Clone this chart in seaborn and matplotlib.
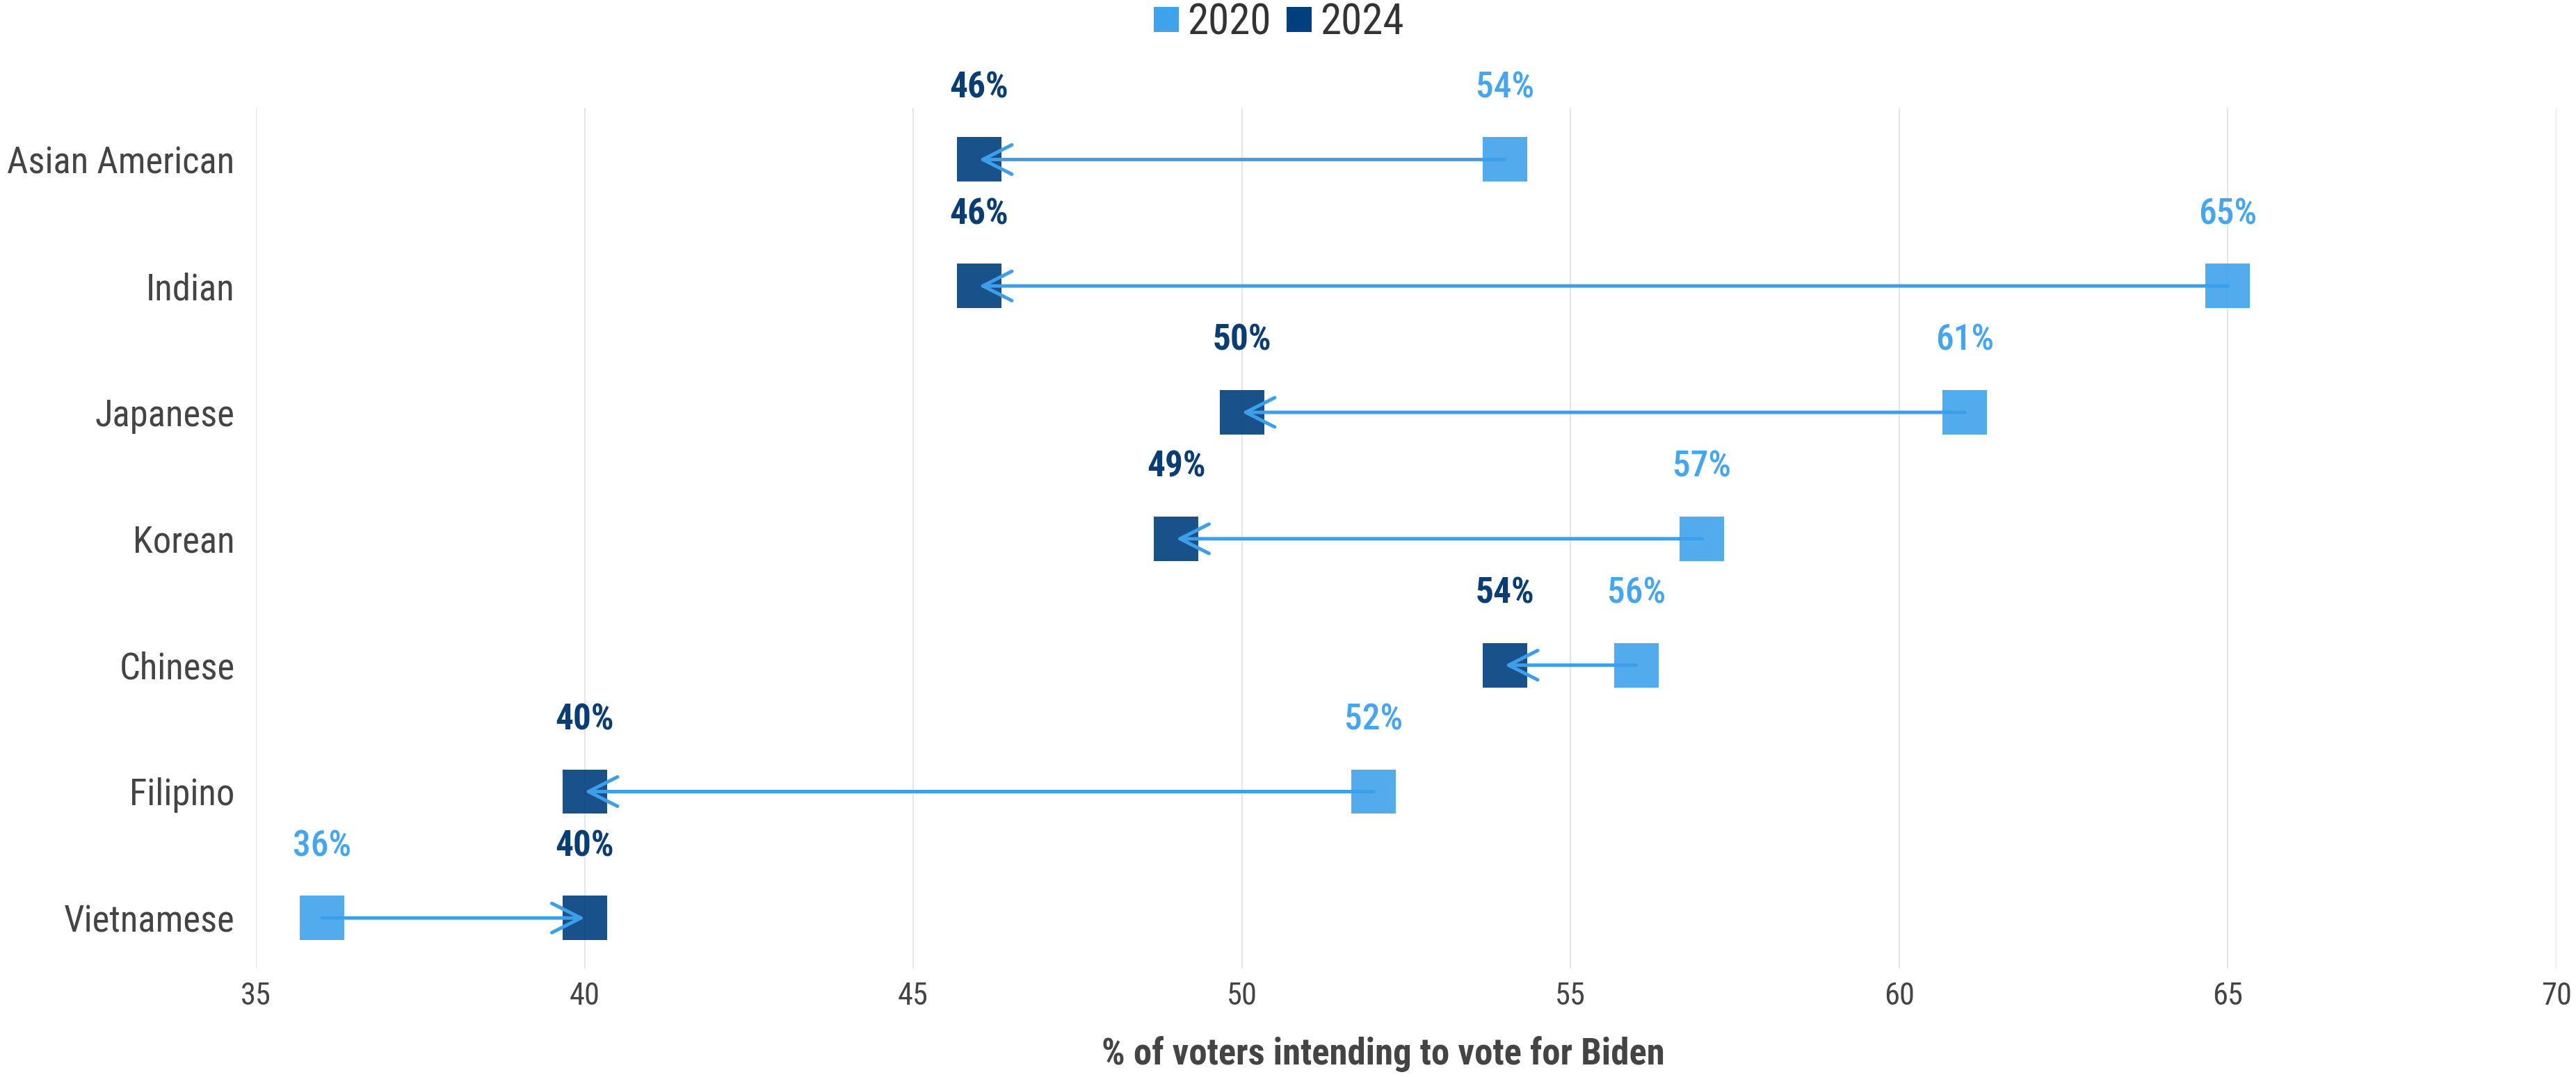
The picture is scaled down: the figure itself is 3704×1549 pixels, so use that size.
import pandas as pd
import seaborn as sns
import matplotlib.pyplot as plt

# Dados
groups = ["Asian American", "Indian", "Japanese", "Korean",
          "Chinese", "Filipino", "Vietnamese"]
vote_2020 = [54, 65, 61, 57, 56, 52, 36]
vote_2024 = [46, 46, 50, 49, 54, 40, 40]
years = ["2020", "2024"]
x_ticks = [35, 40, 45, 50, 55, 60, 65, 70]

df = pd.DataFrame({
    "group": groups * 2,
    "year": [years[0]] * len(groups) + [years[1]] * len(groups),
    "value": vote_2020 + vote_2024,
})

light = "#3FA2EC"
dark = "#003F7E"
arrow_col = "#3D9FEA"

sns.set_theme(style="white")
plt.rcParams["font.family"] = ["Roboto Condensed", "Roboto", "DejaVu Sans"]

fig = plt.figure(figsize=(18.52, 7.745), dpi=200)
ax = fig.add_axes([0.0994, 0.1007, 0.893, 0.7993])

sns.scatterplot(data=df, x="value", y="group", hue="year",
                palette={"2020": light, "2024": dark},
                marker="s", s=530, alpha=0.9, linewidth=0, ax=ax, zorder=3)

# Setas de 2020 para 2024 + rótulos
for i, (a, b) in enumerate(zip(vote_2020, vote_2024)):
    ax.annotate("", xy=(b, i), xytext=(a, i),
                arrowprops=dict(arrowstyle="->,head_length=0.75,head_width=0.38",
                                color=arrow_col, lw=1.8, mutation_scale=20,
                                shrinkA=0, shrinkB=0),
                zorder=4)
    ax.text(a, i - 0.43, f"{a}%", ha="center", va="bottom",
            fontsize=18.5, color="#45A5EE", fontweight="medium")
    ax.text(b, i - 0.43, f"{b}%", ha="center", va="bottom",
            fontsize=18.5, color="#0A3D73", fontweight="semibold")

ax.set_xlim(35, 70)
ax.set_ylim(6.4, -0.41)
ax.set_xticks(x_ticks)
ax.xaxis.grid(True, color="#E6E6E6", linewidth=0.8)
ax.yaxis.grid(False)
for s in ax.spines.values():
    s.set_visible(False)

ax.tick_params(axis="x", length=0, pad=7, labelsize=16, labelcolor="#444444")
ax.tick_params(axis="y", length=6, width=0.9, color="#E0E0E0", pad=5,
               labelsize=19, labelcolor="#444444")

ax.set_ylabel("")
ax.set_xlabel("% of voters intending to vote for Biden",
              fontsize=19, fontweight="bold", color="#444444")
ax.xaxis.label.set_va("center")
ax.xaxis.set_label_coords(0.49, -0.0994)

sns.move_legend(ax, "center", bbox_to_anchor=(0.496, 0.979),
                bbox_transform=fig.transFigure, ncol=2, frameon=False,
                title=None, fontsize=22, handlelength=0.7,
                handletextpad=0.15, columnspacing=0.3)
leg = ax.get_legend()
for h in leg.legend_handles:
    h.set_alpha(1)
    if hasattr(h, "set_markersize"):
        h.set_markersize(13)
for t in leg.get_texts():
    t.set_color("#333333")

fig.savefig("out.png", dpi=200)
